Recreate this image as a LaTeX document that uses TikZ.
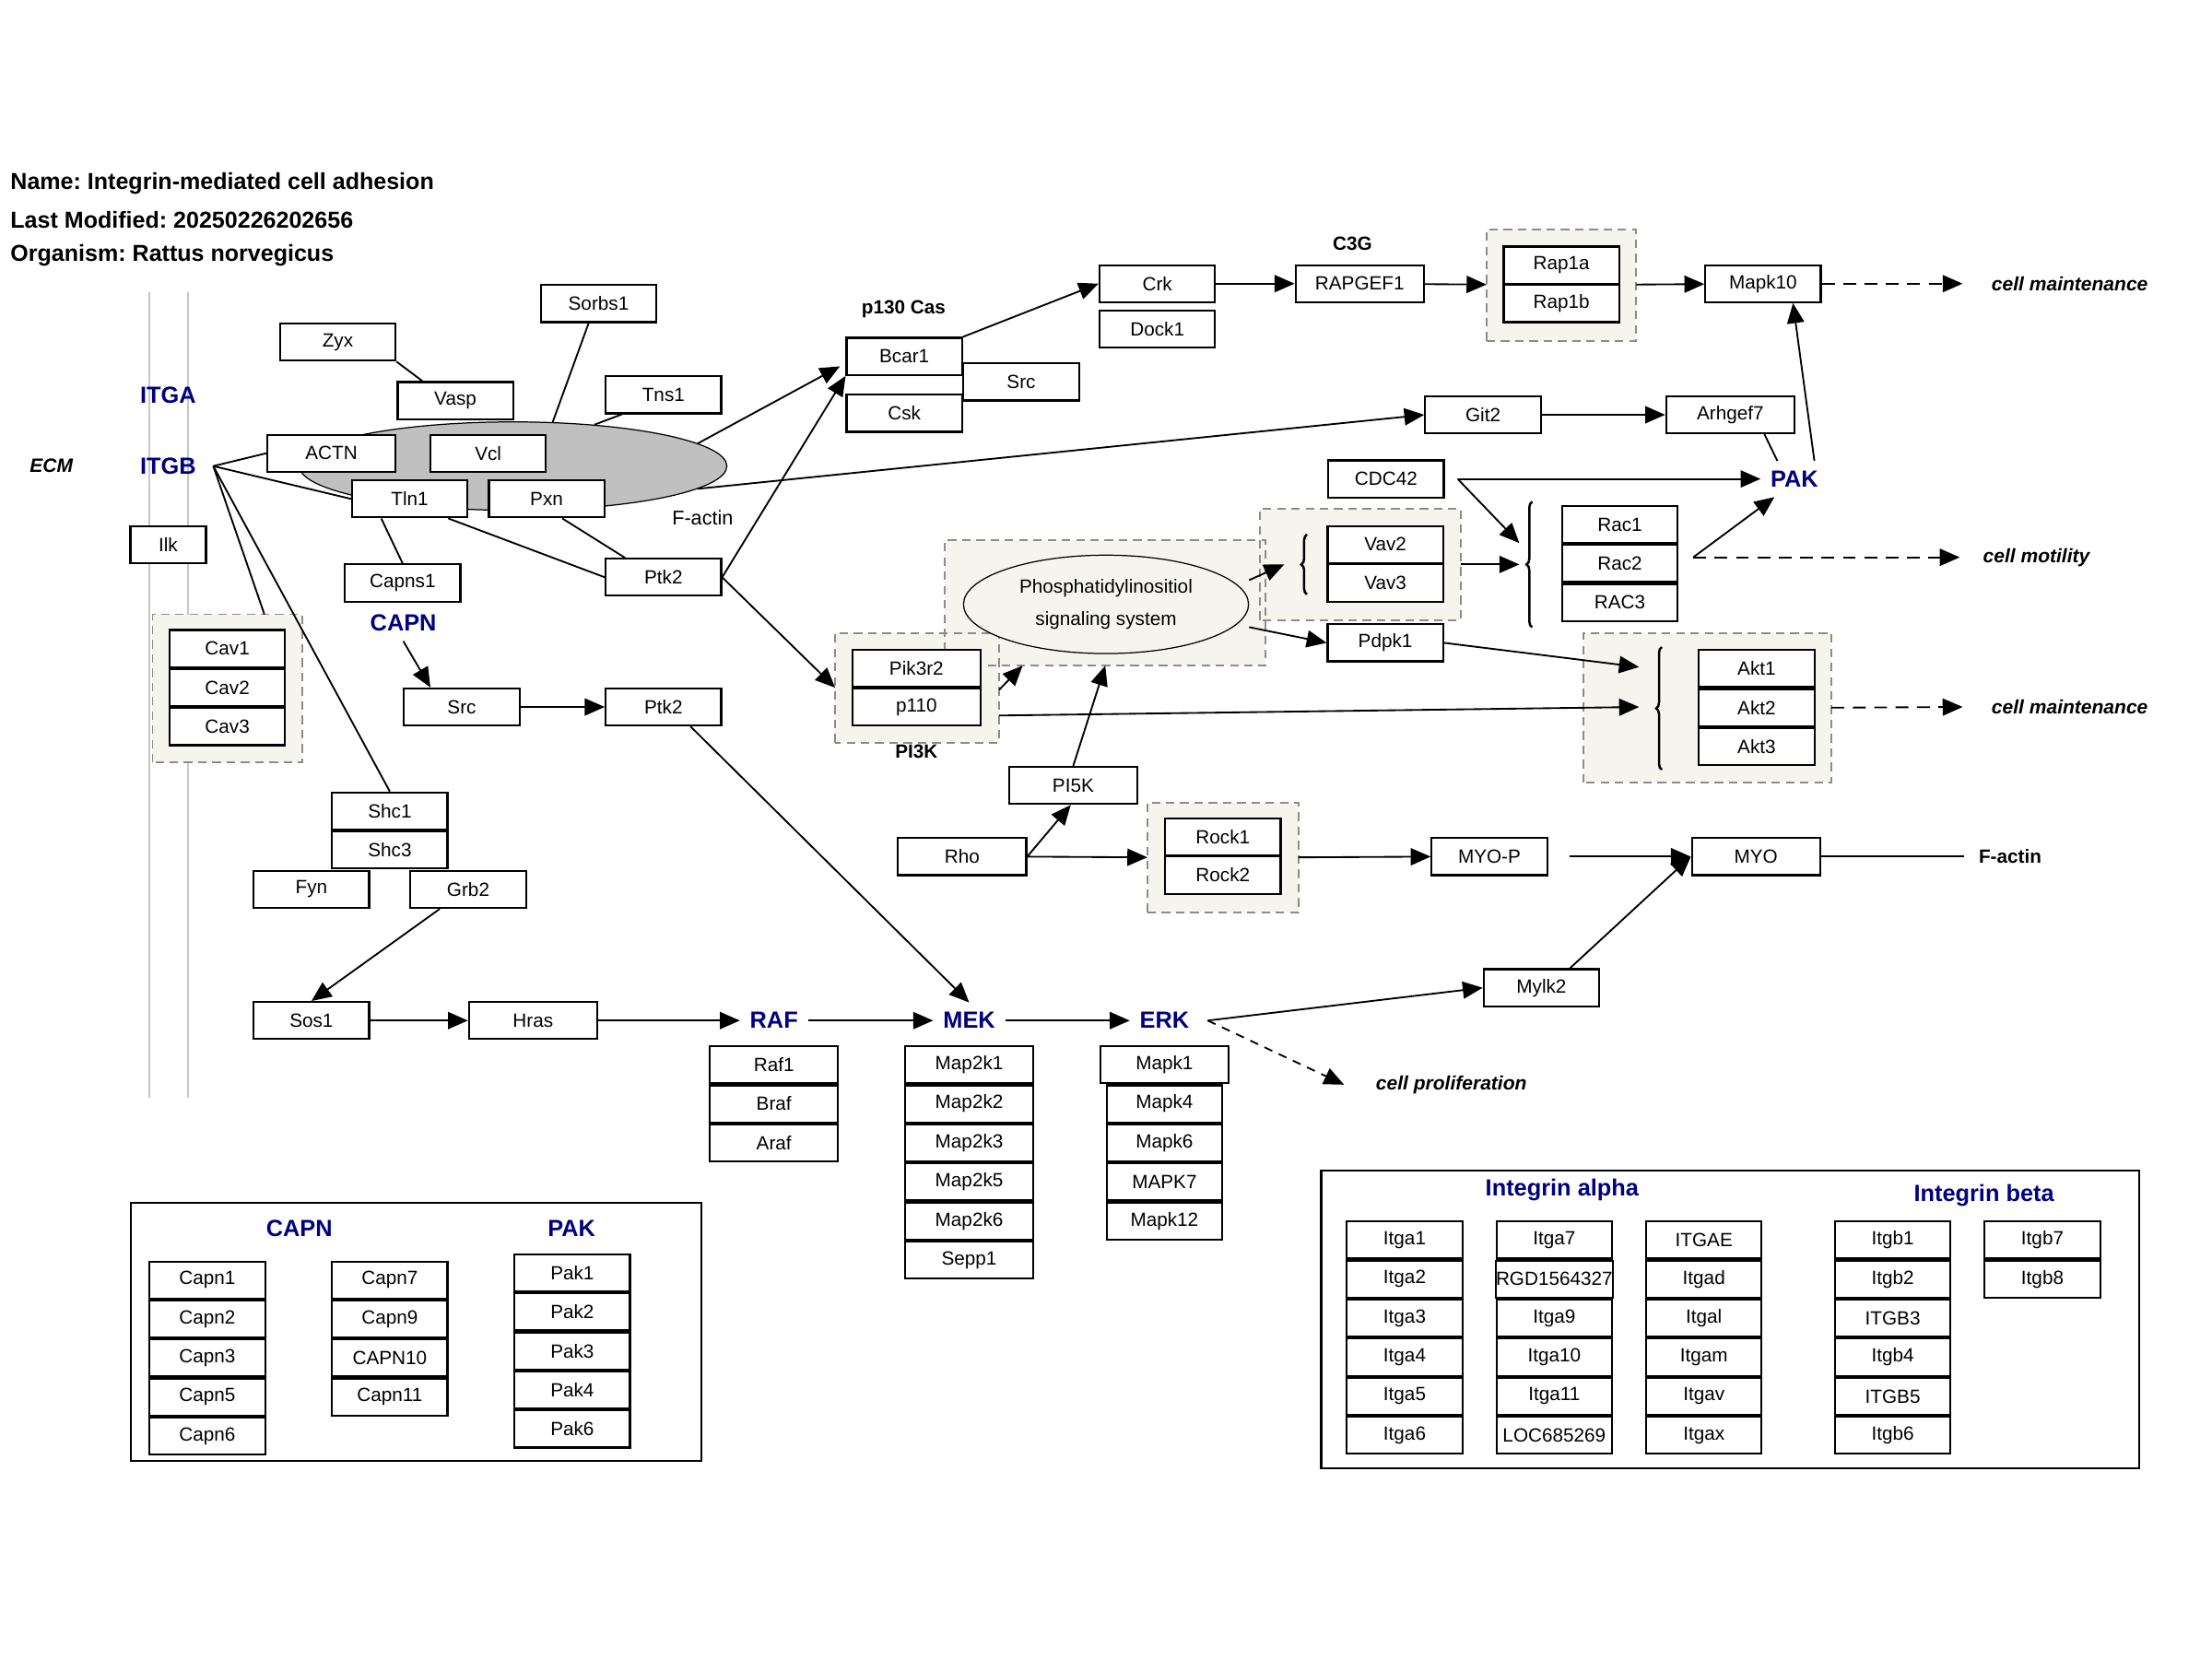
\documentclass[tikz,border=0pt]{standalone}
\usepackage{fontspec}
\setmainfont{Liberation Sans}
\frenchspacing
\usetikzlibrary{arrows.meta,fit,shapes.geometric,decorations.pathreplacing}
\definecolor{famblue}{RGB}{0,0,128}
\definecolor{grpfill}{RGB}{245,245,238}
\definecolor{grpline}{RGB}{140,140,140}
\definecolor{actingray}{RGB}{192,192,192}
\tikzset{
  gene/.style={draw, fill=white, line width=0.7pt, minimum width=40.5pt, minimum height=13pt, inner sep=0pt, font=\fontsize{6.7}{8}\selectfont},
  widebox/.style={minimum width=45pt},
  fam/.style={text=famblue, font=\bfseries\fontsize{8.2}{10}\selectfont},
  lbl/.style={font=\bfseries\fontsize{6.7}{8}\selectfont},
  outc/.style={anchor=west, inner sep=0pt, font=\bfseries\itshape\fontsize{6.8}{8}\selectfont},
  hdr/.style={anchor=west, inner sep=0pt, font=\bfseries\fontsize{8.1}{9.5}\selectfont},
  grp/.style={fill=grpfill, inner sep=0pt, outer sep=0pt},
  grpbox/.style={draw=grpline, line width=0.6pt, dash pattern=on 3pt off 2pt},
  link/.style={line width=0.6pt},
  act/.style={link, -{Triangle[length=7pt,width=6pt]}},
  actdash/.style={act, dash pattern=on 4.5pt off 3pt},
  brc/.style={decorate, decoration={brace, amplitude=2pt}, line width=0.8pt}
}
\begin{document}
\begin{tikzpicture}[x=0.5pt, y=-0.5pt]
\useasboundingbox (0,0) rectangle (1552,1164);
% header
\node[hdr] (title) at (7,129) {Name: Integrin-mediated cell adhesion};
\node[hdr] (modified) at (7,154) {Last Modified: 20250226202656};
\node[hdr] (organism) at (7,179) {Organism: Rattus norvegicus};
% membrane
\draw[gray!45, line width=0.6pt] (105,205) -- (105,770) (132,205) -- (132,770);
% groups
\node[grp, fit={(107,431) (212,535)}] (cavgrp) {};
\node[grp, fit={(586,444) (701,521)}] (pi3kgrp) {};
\node[grp, fit={(663,379) (888,467)}] (pigrp) {};
\node[grp, fit={(884,357) (1025,435)}] (vavgrp) {};
\node[grp, fit={(1043,161) (1148,239)}] (rapgrp) {};
\node[grp, fit={(1111,444) (1285,549)}] (aktgrp) {};
\node[grp, fit={(805,563) (911,640)}] (rockgrp) {};
\foreach \g in {cavgrp,pi3kgrp,pigrp,vavgrp,rapgrp,aktgrp,rockgrp}
  \draw[grpbox] (\g.south west) rectangle (\g.north east);
% ellipses
\node[ellipse, draw, line width=0.4pt, fill=actingray, minimum width=150pt, minimum height=31pt] (factin) at (360,327) {};
\node[font=\fontsize{7}{8}\selectfont] (factinlbl) at (493,363) {F-actin};
\node[ellipse, draw, line width=0.4pt, fill=grpfill, minimum width=100pt, minimum height=31pt, align=center, font=\fontsize{6.7}{11.5}\selectfont] (pies) at (776,424) {Phosphatidylinositiol\\signaling system};
% labels
\node[fam] (itga) at (118,277) {ITGA};
\node[fam] (itgb) at (118,327) {ITGB};
\node[outc, anchor=center] (ecm) at (36,327) {ECM};
\node[fam] (capn) at (283,437) {CAPN};
\node[fam] (pak) at (1259,336) {PAK};
\node[fam] (raf) at (543,716) {RAF};
\node[fam] (mek) at (680,716) {MEK};
\node[fam] (erk) at (817,716) {ERK};
\node[lbl] (p130) at (634,217) {p130 Cas};
\node[lbl] (c3g) at (949,171) {C3G};
\node[lbl] (pi3k) at (643,527) {PI3K};
\node[outc] (maint1) at (1397,199) {cell maintenance};
\node[outc] (motil) at (1391,391) {cell motility};
\node[outc] (maint2) at (1397,496) {cell maintenance};
\node[outc] (prolif) at (965,761) {cell proliferation};
\node[lbl, anchor=west, inner sep=0pt] (factin2) at (1388,601) {F-actin};
% genes
\node[gene, minimum width=26.5pt] (ilk) at (118,382) {Ilk};
\foreach \n [count=\i from 0] in {Cav1,Cav2,Cav3}
  \node[gene] (cav\i) at (159.5,455+27.4*\i) {\n};
\node[gene] (sorbs1) at (420,213) {Sorbs1};
\node[gene] (zyx) at (237,240) {Zyx};
\node[gene] (vasp) at (319.5,281) {Vasp};
\node[gene] (tns1) at (465.5,277) {Tns1};
\node[gene, widebox] (actn) at (232.5,318) {ACTN};
\node[gene] (vcl) at (342.5,318) {Vcl};
\node[gene] (tln1) at (287.5,350) {Tln1};
\node[gene] (pxn) at (383.5,350) {Pxn};
\node[gene] (capns1) at (282.5,409) {Capns1};
\node[gene] (ptk2) at (465.5,405) {Ptk2};
\node[gene] (src) at (324,496) {Src};
\node[gene] (ptk2b) at (465.5,496) {Ptk2};
\node[gene] (bcar1) at (634.5,250) {Bcar1};
\node[gene] (src2) at (716.5,268) {Src};
\node[gene] (csk) at (634.5,290) {Csk};
\node[gene] (crk) at (812,199) {Crk};
\node[gene] (dock1) at (812,231) {Dock1};
\node[gene, widebox] (rapgef1) at (954,199) {RAPGEF1};
\node[gene] (rap1a) at (1095.5,186) {Rap1a};
\node[gene] (rap1b) at (1095.5,213) {Rap1b};
\node[gene] (mapk10) at (1237,199) {Mapk10};
\node[gene] (git2) at (1040.5,291) {Git2};
\node[gene, widebox] (arhgef7) at (1214,291) {Arhgef7};
\node[gene] (cdc42) at (972.5,336) {CDC42};
\node[gene] (vav2) at (972,382) {Vav2};
\node[gene] (vav3) at (972,409) {Vav3};
\node[gene] (pdpk1) at (972,451) {Pdpk1};
\foreach \n [count=\i from 0] in {Rac1,Rac2,RAC3}
  \node[gene] (rac\i) at (1136.5,368+27.4*\i) {\n};
\foreach \n [count=\i from 0] in {Akt1,Akt2,Akt3}
  \node[gene] (akt\i) at (1232.5,469+27.4*\i) {\n};
\node[gene, widebox] (pik3r2) at (643,469) {Pik3r2};
\node[gene, widebox] (p110) at (643,496) {p110};
\node[gene, widebox] (pi5k) at (753,551) {PI5K};
\node[gene, widebox] (rho) at (675,601) {Rho};
\node[gene] (rock1) at (858,587) {Rock1};
\node[gene] (rock2) at (858,614) {Rock2};
\node[gene] (myop) at (1045,601) {MYO-P};
\node[gene, widebox] (myo) at (1232,601) {MYO};
\node[gene] (mylk2) at (1081.5,693) {Mylk2};
\node[gene] (shc1) at (273.5,569) {Shc1};
\node[gene] (shc3) at (273.5,596) {Shc3};
\node[gene] (fyn) at (218.5,624) {Fyn};
\node[gene] (grb2) at (328.5,624) {Grb2};
\node[gene] (sos1) at (218.5,716) {Sos1};
\node[gene, widebox] (hras) at (374,716) {Hras};
\foreach \n [count=\i from 0] in {Raf1,Braf,Araf}
  \node[gene, widebox] (raf\i) at (543,747+27.4*\i) {\n};
\foreach \n [count=\i from 0] in {Map2k1,Map2k2,Map2k3,Map2k5,Map2k6,Sepp1}
  \node[gene, widebox] (mek\i) at (680,747+27.4*\i) {\n};
\node[gene, widebox] (mapk1) at (817,747) {Mapk1};
\foreach \n [count=\i from 1] in {Mapk4,Mapk6,MAPK7,Mapk12}
  \node[gene] (erk\i) at (817,747+27.4*\i) {\n};
% brace targets
\draw[brc] (917,417) -- (917,375);
\draw[brc] (1075,440) -- (1075,352);
\draw[brc] (1166,540) -- (1166,454);
\coordinate (vavin) at (901,396);
\coordinate (racin1) at (1066,381);
\coordinate (racin2) at (1066,396);
\coordinate (aktin1) at (1150,468);
\coordinate (aktin2) at (1150,496);
% connectors
\coordinate (itgbhub) at ([xshift=2.5pt]itgb.east);
\draw[link] (zyx.south east) -- ([xshift=9pt]vasp.north west);
\draw[link] ([xshift=-3.5pt]sorbs1.south) -- (factin.48);
\draw[link] ([xshift=6pt]tns1.south west) -- (factin.27);
\draw[link] (itgbhub) -- (actn.west);
\draw[link] (itgbhub) -- (tln1.west);
\draw[link] (itgbhub) -- ([xshift=13pt]cavgrp.north);
\draw[link] (itgbhub) -- (shc1.north);
\draw[link] ([xshift=-10pt]tln1.south) -- (capns1.north);
\draw[link] ([xshift=13.5pt]tln1.south) -- (ptk2.west);
\draw[link] ([xshift=5.5pt]pxn.south) -- ([xshift=-13.5pt]ptk2.north);
\draw[act] (capn.south) -- ([xshift=-11pt]src.north);
\draw[act] (src) -- (ptk2b);
\draw[act] (factin.7) -- ([shift={(-2pt,-3.5pt)}]bcar1.west);
\draw[act] (ptk2.east) -- (bcar1.south west);
\draw[act] (ptk2.east) -- (pi3kgrp.west);
\draw[act] (factin.-7.5) -- (git2.west);
\draw[act] ([xshift=9.5pt]ptk2b.south) -- (mek.north);
\draw[act] (bcar1.north east) -- (crk.west);
\draw[act] (crk) -- (rapgef1);
\draw[act] (rapgef1) -- (rapgrp);
\draw[act] (rapgrp) -- (mapk10);
\draw[actdash] (mapk10) -- ([xshift=-10pt]maint1.west);
\draw[act] (git2) -- (arhgef7);
\draw[link] ([xshift=12pt]arhgef7.south) -- ([xshift=-6pt]pak.north);
\draw[act] ([xshift=7pt]pak.north) -- ([xshift=10.5pt]mapk10.south);
\coordinate (cdchub) at ([xshift=4.5pt]cdc42.east);
\draw[act] (cdchub) -- (pak.west);
\draw[act] (cdchub) -- (racin1);
\draw[act] (vavgrp.east) -- (racin2);
\coordinate (racout) at (1188,391);
\draw[act] (racout) -- ([xshift=-7pt]pak.south);
\draw[actdash] (racout) -- ([xshift=-8pt]motil.west);
\draw[act] ([yshift=8.5pt]pies.east) -- (vavin);
\draw[act] ([yshift=-8pt]pies.east) -- (pdpk1.west);
\draw[act] (pdpk1.east) -- (aktin1);
\draw[act] ([yshift=-9.75pt]pi3kgrp.east) -- (aktin2);
\draw[actdash] (aktgrp.east) -- ([xshift=-10pt]maint2.west);
\draw[act] ([yshift=-0.75pt]pi3kgrp.east) -- ([xshift=-29pt]pigrp.south);
\draw[act] (pi5k.north) -- (pigrp.south);
\draw[act] (rho.east) -- ([xshift=22pt]pi5k.south west);
\draw[act] (rho.east) -- (rockgrp.west);
\draw[act] (rockgrp.east) -- (myop.west);
\draw[act] ([xshift=7.5pt]myop.east) -- (myo.west);
\draw[link] (myo.east) -- ([xshift=-5pt]factin2.west);
\draw[act] ([xshift=10pt]mylk2.north) -- (myo.west);
\coordinate (erkhub) at ([xshift=3pt]erk.east);
\draw[act] (erkhub) -- (mylk2.west);
\draw[act, dash pattern=on 3pt off 2.5pt] (erkhub) -- ([xshift=-11pt]prolif.west);
\draw[act] ([xshift=-10pt]grb2.south) -- (sos1.north);
\draw[act] (sos1) -- (hras);
\draw[act] (hras) -- (raf);
\draw[act] (raf) -- (mek);
\draw[act] (mek) -- (erk);
% legend CAPN / PAK
\draw[line width=0.7pt] (92,844) rectangle (492,1025);
\node[fam] (capnkey) at (210,862) {CAPN};
\node[fam] (pakkey) at (401,862) {PAK};
\foreach \n [count=\i from 0] in {Capn1,Capn2,Capn3,Capn5,Capn6}
  \node[gene] (capnA\i) at (145.5,898+27.4*\i) {\n};
\foreach \n [count=\i from 0] in {Capn7,Capn9,CAPN10,Capn11}
  \node[gene] (capnB\i) at (273.5,898+27.4*\i) {\n};
\foreach \n [count=\i from 0] in {Pak1,Pak2,Pak3,Pak4,Pak6}
  \node[gene] (pakA\i) at (401.5,893+27.4*\i) {\n};
% legend integrins
\draw[line width=0.7pt] (927,821) rectangle (1501,1030);
\node[fam] (itgakey) at (1096,835) {Integrin alpha};
\node[fam] (itgbkey) at (1392,839) {Integrin beta};
\foreach \n [count=\i from 0] in {Itga1,Itga2,Itga3,Itga4,Itga5,Itga6}
  \node[gene] (itgaA\i) at (985.5,870+27.4*\i) {\n};
\foreach \n [count=\i from 0] in {Itga7,RGD1564327,Itga9,Itga10,Itga11,LOC685269}
  \node[gene] (itgaB\i) at (1090.5,870+27.4*\i) {\n};
\foreach \n [count=\i from 0] in {ITGAE,Itgad,Itgal,Itgam,Itgav,Itgax}
  \node[gene] (itgaC\i) at (1195.5,870+27.4*\i) {\n};
\foreach \n [count=\i from 0] in {Itgb1,Itgb2,ITGB3,Itgb4,ITGB5,Itgb6}
  \node[gene] (itgbA\i) at (1328,870+27.4*\i) {\n};
\foreach \n [count=\i from 0] in {Itgb7,Itgb8}
  \node[gene] (itgbB\i) at (1433,870+27.4*\i) {\n};
\end{tikzpicture}
\end{document}
